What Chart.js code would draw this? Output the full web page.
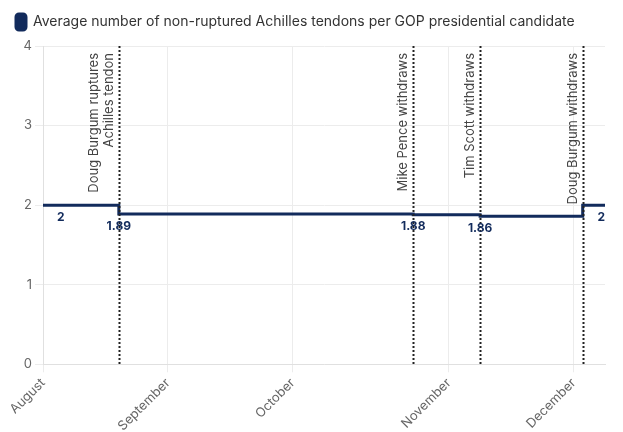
<!DOCTYPE html>
<html>
<head>
<meta charset="utf-8">
<script src="https://cdn.jsdelivr.net/npm/chart.js@4"></script>
<style>
  html, body { margin: 0; padding: 0; background: #fff; }
  #wrap { width: 623px; height: 432px; }
</style>
</head>
<body>
<div id="wrap"><canvas id="chart"></canvas></div>
<script>
// step data: date -> average non-ruptured tendons
var pointDates = ['2023-08-06', '2023-08-10', '2023-08-23', '2023-10-28', '2023-11-12', '2023-12-05', '2023-12-10'];
var pointValues = [2, 2, 1.89, 1.88, 1.86, 2, 2];
var showValue = [false, true, true, true, true, false, true];

var tickDates = ['2023-08-06', '2023-09-03', '2023-10-01', '2023-11-05', '2023-12-03'];
var tickLabels = ['August', 'September', 'October', 'November', 'December'];

var eventDates = ['2023-08-23', '2023-10-28', '2023-11-12', '2023-12-05'];
var eventLabels = [
    ['Doug Burgum ruptures', 'Achilles tendon'],
    ['Mike Pence withdraws'],
    ['Tim Scott withdraws'],
    ['Doug Burgum withdraws']
];

function ts(d) { return Date.parse(d + 'T00:00:00Z'); }

var navy = '#122b5c';
var font = 'Inter, "Noto Sans", sans-serif';

// extra space under the legend
var legendGap = {
    id: 'legendGap',
    beforeInit: function (chart) {
        var fit = chart.legend.fit;
        chart.legend.fit = function () {
            fit.call(this);
            this.height += 6;
        };
    }
};

// vertical dotted event lines + rotated captions, and value labels
var eventsPlugin = {
    id: 'events',
    afterDatasetsDraw: function (chart) {
        var ctx = chart.ctx;
        var area = chart.chartArea;
        var xs = chart.scales.x;
        ctx.save();
        eventDates.forEach(function (d, i) {
            var x = Math.round(xs.getPixelForValue(ts(d))) + 0.5;
            ctx.beginPath();
            ctx.setLineDash([2, 2]);
            ctx.lineWidth = 2;
            ctx.strokeStyle = '#222';
            ctx.moveTo(x, area.top);
            ctx.lineTo(x, area.bottom);
            ctx.stroke();

            var lines = eventLabels[i];
            ctx.save();
            ctx.translate(x - 4, area.top + 7);
            ctx.rotate(-Math.PI / 2);
            ctx.font = '13px ' + font;
            ctx.fillStyle = '#444';
            ctx.textAlign = 'right';
            ctx.textBaseline = 'bottom';
            for (var k = 0; k < lines.length; k++) {
                ctx.fillText(lines[k], 0, -(lines.length - 1 - k) * 15);
            }
            ctx.restore();
        });
        ctx.setLineDash([]);

        var meta = chart.getDatasetMeta(0);
        ctx.font = 'bold 12px ' + font;
        ctx.fillStyle = navy;
        ctx.textBaseline = 'top';
        ctx.textAlign = 'center';
        meta.data.forEach(function (pt, i) {
            if (!showValue[i]) return;
            var txt = String(pointValues[i]);
            var w = ctx.measureText(txt).width;
            var x = Math.min(Math.max(pt.x, area.left + w / 2), area.right - w / 2);
            ctx.fillText(txt, x, pt.y + 6);
        });
        ctx.restore();
    }
};

var ctx = document.getElementById('chart').getContext('2d');
var chart = new Chart(ctx, {
    type: 'line',
    data: {
        datasets: [{
            label: 'Average number of non-ruptured Achilles tendons per GOP presidential candidate',
            data: pointDates.map(function (d, i) { return { x: ts(d), y: pointValues[i] }; }),
            stepped: true,
            borderColor: navy,
            backgroundColor: navy,
            borderWidth: 3,
            pointRadius: 0,
            fill: false
        }]
    },
    options: {
        responsive: true,
        maintainAspectRatio: false,
        animation: false,
        layout: { padding: { left: 4, right: 18, top: 2, bottom: -5 } },
        plugins: {
            legend: {
                align: 'start',
                labels: {
                    boxWidth: 10,
                    boxHeight: 16,
                    useBorderRadius: true,
                    borderRadius: 3,
                    color: '#333',
                    padding: 12,
                    font: { family: font, size: 14 }
                }
            },
            tooltip: { enabled: false }
        },
        scales: {
            x: {
                type: 'linear',
                min: ts(pointDates[0]),
                max: ts(pointDates[pointDates.length - 1]),
                afterBuildTicks: function (axis) {
                    axis.ticks = tickDates.map(function (d) { return { value: ts(d) }; });
                },
                ticks: {
                    minRotation: 45,
                    maxRotation: 45,
                    color: '#666',
                    font: { family: font, size: 13 },
                    callback: function (value) {
                        var i = tickDates.map(ts).indexOf(value);
                        return i >= 0 ? tickLabels[i] : null;
                    }
                },
                grid: { color: '#ececec' },
                border: { color: '#e0e0e0' }
            },
            y: {
                min: 0,
                max: 4,
                afterFit: function (axis) { axis.width = 39; },
                ticks: {
                    stepSize: 1,
                    color: '#666',
                    font: { family: font, size: 13 }
                },
                grid: { color: '#ececec' },
                border: { color: '#e0e0e0' }
            }
        }
    },
    plugins: [legendGap, eventsPlugin]
});
</script>
</body>
</html>
